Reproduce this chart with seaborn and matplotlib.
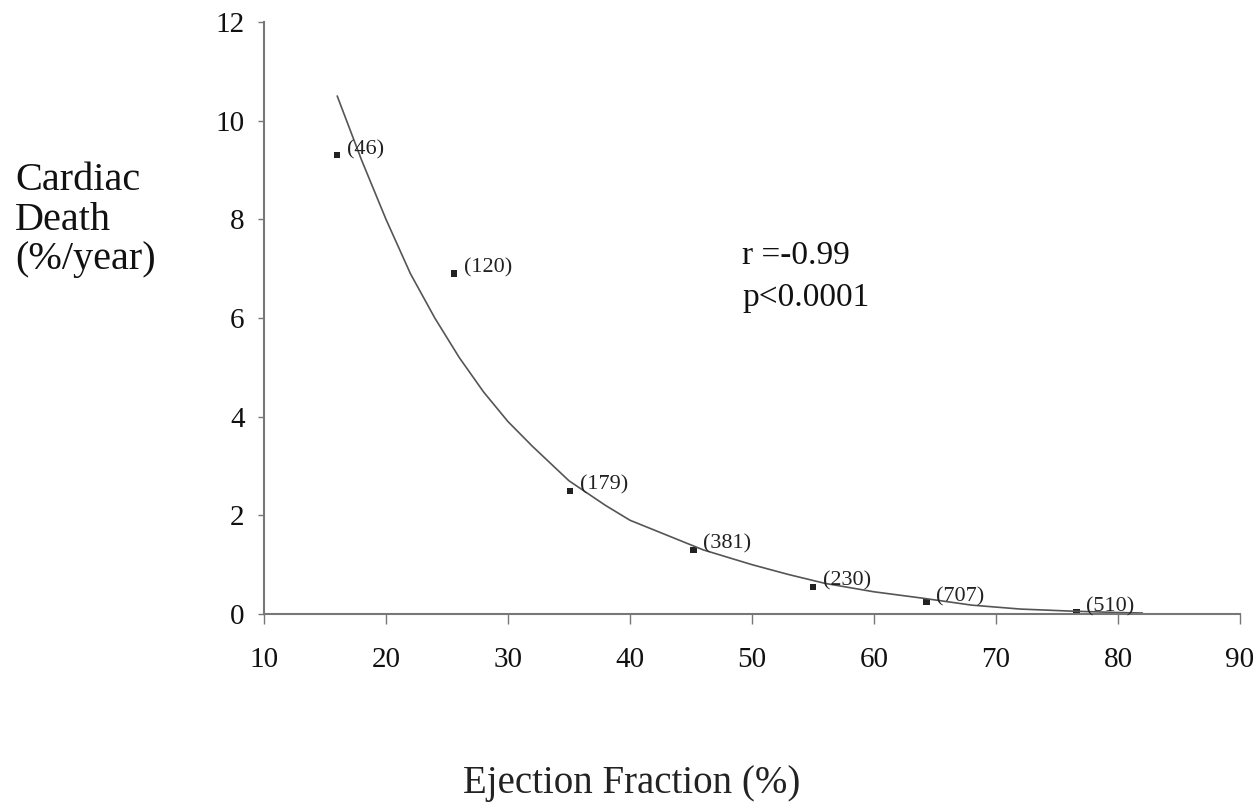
import matplotlib
matplotlib.use("Agg")
import numpy as np
import pandas as pd
import seaborn as sns
import matplotlib.pyplot as plt

# Observed annual cardiac death rate by ejection fraction group
ef_points = [16.0, 25.6, 35.1, 45.2, 55.0, 64.3, 76.6]
death_points = [9.3, 6.9, 2.5, 1.3, 0.55, 0.24, 0.04]
group_sizes = ["(46)", "(120)", "(179)", "(381)", "(230)", "(707)", "(510)"]

# Fitted curve
curve_ef = [16, 18, 20, 22, 24, 26, 28, 30, 32, 35, 38, 40, 43, 46, 50,
            53, 56, 60, 64, 68, 72, 76, 80, 82]
curve_death = [10.5, 9.2, 8.0, 6.9, 6.0, 5.2, 4.5, 3.9, 3.4, 2.7, 2.2, 1.9,
               1.6, 1.3, 1.0, 0.8, 0.62, 0.45, 0.32, 0.18, 0.1, 0.06, 0.03, 0.02]

x_ticks = [10, 20, 30, 40, 50, 60, 70, 80, 90]
y_ticks = [0, 2, 4, 6, 8, 10, 12]

sns.set_style("white")
plt.rcParams['font.family'] = ['Liberation Serif', 'DejaVu Serif']

pts = pd.DataFrame({"ef": ef_points, "death": death_points, "n": group_sizes})
curve = pd.DataFrame({"ef": curve_ef, "death": curve_death})

fig = plt.figure(figsize=(12.6, 8.11), dpi=100)
ax = fig.add_axes([264 / 1260, 197 / 811, (1240 - 264) / 1260, (614 - 22) / 811])

sns.lineplot(data=curve, x="ef", y="death", ax=ax, color="#555555", linewidth=1.2)
sns.scatterplot(data=pts, x="ef", y="death", ax=ax, marker="s", s=20,
                color="#222222", edgecolor="none")

for _, row in pts.iterrows():
    ax.annotate(row["n"], (row["ef"], row["death"]), xytext=(7, 4),
                textcoords="offset points", ha="left", va="center",
                fontsize=16, color="#222222")

ax.set_xlim(10, 90)
ax.set_ylim(0, 12)
ax.set_xticks(x_ticks)
ax.set_yticks(y_ticks)
ax.tick_params(axis="x", direction="out", length=7, width=1, color="#777777",
               labelsize=21, pad=17, labelcolor="#111111")
ax.tick_params(axis="y", direction="out", length=4, width=1, color="#777777",
               labelsize=21, pad=10, labelcolor="#111111")
ax.tick_params(bottom=True, left=True)
ax.set_xlabel("")
ax.set_ylabel("")

for side in ["top", "right"]:
    ax.spines[side].set_visible(False)
for side in ["left", "bottom"]:
    ax.spines[side].set_color("#777777")
    ax.spines[side].set_linewidth(1.5)

ax.text(0.49, 0.605, "r =-0.99", transform=ax.transAxes, fontsize=24,
        ha="left", va="center", color="#111111")
ax.text(0.49, 0.535, "p<0.0001", transform=ax.transAxes, fontsize=24,
        ha="left", va="center", color="#111111")

fig.text(15 / 1260, 1 - 220 / 811, "Cardiac\nDeath\n(%/year)", fontsize=29,
         ha="left", va="center", linespacing=1.1, color="#111111")
fig.text(632 / 1260, 1 - 784 / 811, "Ejection Fraction (%)", fontsize=28,
         ha="center", va="center", color="#222222")

fig.savefig("out.png", dpi=100)
